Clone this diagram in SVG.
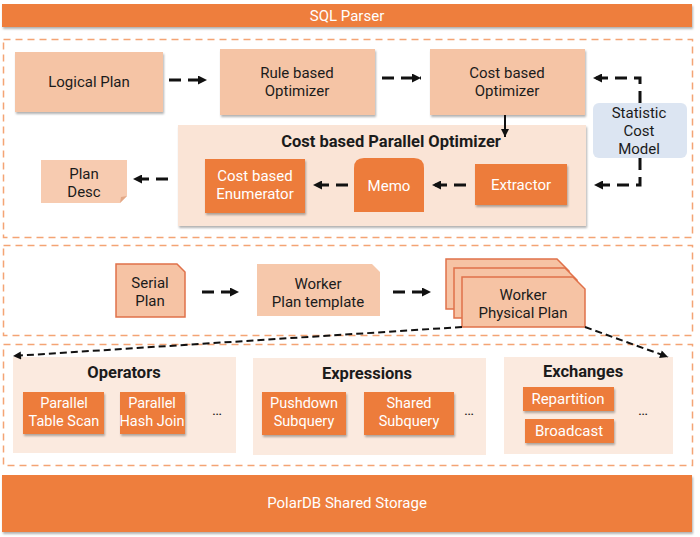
<svg xmlns="http://www.w3.org/2000/svg" width="700" height="537" viewBox="0 0 700 537">
<defs>
<filter id="sh" x="-10%" y="-10%" width="120%" height="130%"><feDropShadow dx="1" dy="2" stdDeviation="1.2" flood-color="#000" flood-opacity="0.3"/></filter>
<marker id="ah" viewBox="0 0 10 10" refX="10" refY="5" markerWidth="10" markerHeight="9" markerUnits="userSpaceOnUse" orient="auto"><path d="M0,0 L10,5 L0,10 z" fill="#111"/></marker>
<marker id="ahs" viewBox="0 0 10 10" refX="10" refY="5" markerWidth="9" markerHeight="8" markerUnits="userSpaceOnUse" orient="auto"><path d="M0,0 L10,5 L0,10 z" fill="#111"/></marker>
<style>
text{font-family:Roboto,"Liberation Sans",sans-serif;font-size:15px;text-anchor:middle;dominant-baseline:central;fill:#1b1b1b}
.w{fill:#fff}
.s{font-size:14.5px}
.b{font-weight:bold;font-size:16.5px}
.bar{fill:#EE7E3E}
.lt{fill:#F5C4A5}
.dk{fill:#ED7C3B}
.ct{fill:#FAE4D6}
.pn{fill:#FBEADF}
.zone{fill:none;stroke:#F4A474;stroke-width:1.5;stroke-dasharray:7 5}
.st{stroke:#E0714A;stroke-width:1.5}
.tk{fill:none;stroke:#111;stroke-width:3;stroke-dasharray:12 7}
.tn{fill:none;stroke:#111;stroke-width:2;stroke-dasharray:7 4}
</style>
</defs>

<g id="sql-parser"><rect class="bar" x="2" y="4" width="690" height="23" filter="url(#sh)"/><text class="w" x="347" y="16">SQL Parser</text></g>

<g id="zones">
<rect class="zone" x="3.5" y="39.5" width="689" height="198"/>
<rect class="zone" x="3.5" y="245.5" width="689" height="90"/>
<rect class="zone" x="3.5" y="344.5" width="689" height="121"/>
</g>

<g id="logical-plan"><rect class="lt" x="15" y="52" width="148" height="60" filter="url(#sh)"/><text x="89" y="82">Logical Plan</text></g>
<g id="rule-optimizer"><rect class="lt" x="220" y="49" width="155" height="66" filter="url(#sh)"/><text x="297" y="73">Rule based</text><text x="297" y="91">Optimizer</text></g>
<g id="cost-optimizer"><rect class="lt" x="430" y="49" width="155" height="66" filter="url(#sh)"/><text x="507" y="73">Cost based</text><text x="507" y="91">Optimizer</text></g>
<g id="statistic-cost-model"><rect x="593" y="103" width="94" height="55" rx="6" fill="#DCE5F2"/><text x="639" y="113">Statistic</text><text x="639" y="131">Cost</text><text x="639" y="149">Model</text></g>

<g id="parallel-optimizer"><rect class="ct" x="178" y="125" width="408" height="101" filter="url(#sh)"/><text class="b" x="391" y="141">Cost based Parallel Optimizer</text></g>
<g id="plan-desc"><path d="M41,160 H127 V196 L120,203 H41 Z" fill="#F7CBB0"/><path d="M127,196 L121,197 L120,203 Z" fill="#E3A886"/><text x="84" y="174">Plan</text><text x="84" y="192">Desc</text></g>
<g id="enumerator"><rect class="dk" x="205" y="159" width="100" height="54" filter="url(#sh)"/><text class="w" x="255" y="176">Cost based</text><text class="w" x="255" y="194">Enumerator</text></g>
<g id="memo"><path class="dk" d="M354,212 V168 Q354,158 364,158 H414 Q424,158 424,168 V212 Z"/><text class="w" x="389" y="186">Memo</text></g>
<g id="extractor"><rect class="dk" x="475" y="164" width="92" height="41" filter="url(#sh)"/><text class="w" x="521" y="185">Extractor</text></g>

<g id="serial-plan"><path class="st" d="M116,264 H177 L185,272 V317 H116 Z" fill="#F6C3A4"/><text x="150" y="283">Serial</text><text x="150" y="301">Plan</text></g>
<g id="worker-plan-template"><path d="M257,264 H372 L380,272 V316 H257 Z" fill="#F6C8AB"/><text x="318" y="284">Worker</text><text x="318" y="302">Plan template</text></g>
<g id="worker-physical-plan">
<path class="st" d="M446,259 H557 L569,271 V309 H446 Z" fill="#F6C3A4"/>
<path class="st" d="M454,268 H565 L577,280 V318 H454 Z" fill="#F6C3A4"/>
<path class="st" d="M462,277 H573 L585,289 V327 H462 Z" fill="#F6C3A4"/>
<text x="523" y="295">Worker</text><text x="523" y="313">Physical Plan</text></g>

<g id="operators"><rect class="pn" x="13" y="357" width="223" height="96"/><text class="b" x="124" y="372">Operators</text>
<rect class="dk" x="23" y="392" width="81" height="42" filter="url(#sh)"/><text class="w s" x="64" y="403">Parallel</text><text class="w s" x="64" y="421">Table Scan</text>
<rect class="dk" x="120" y="392" width="65" height="42" filter="url(#sh)"/><text class="w s" x="152" y="403">Parallel</text><text class="w s" x="152" y="421">Hash Join</text>
<text x="217" y="410">…</text></g>
<g id="expressions"><rect class="pn" x="253" y="358" width="233" height="97"/><text class="b" x="367" y="373">Expressions</text>
<rect class="dk" x="262" y="392" width="84" height="43" filter="url(#sh)"/><text class="w s" x="304" y="403">Pushdown</text><text class="w s" x="304" y="421">Subquery</text>
<rect class="dk" x="364" y="392" width="90" height="43" filter="url(#sh)"/><text class="w s" x="409" y="403">Shared</text><text class="w s" x="409" y="421">Subquery</text>
<text x="469" y="410">…</text></g>
<g id="exchanges"><rect class="pn" x="504" y="357" width="169" height="97"/><text class="b" x="583" y="371">Exchanges</text>
<rect class="dk" x="523" y="387" width="91" height="24" filter="url(#sh)"/><text class="w" x="568" y="399">Repartition</text>
<rect class="dk" x="525" y="419" width="89" height="24" filter="url(#sh)"/><text class="w" x="569" y="431">Broadcast</text>
<text x="643" y="410">…</text></g>

<g id="shared-storage"><rect class="bar" x="2" y="475" width="690" height="57" filter="url(#sh)"/><text class="w" x="347" y="503">PolarDB Shared Storage</text></g>

<g id="connectors">
<path class="tk" d="M169,80 H207" marker-end="url(#ah)"/>
<path class="tk" d="M382,78 H421" marker-end="url(#ah)"/>
<path class="tk" d="M640,103 V78 H593" marker-end="url(#ah)"/>
<path class="tk" d="M640,158 V185 H594" marker-end="url(#ah)"/>
<path d="M505,115 V137" fill="none" stroke="#111" stroke-width="2" marker-end="url(#ahs)"/>
<path class="tk" d="M466,185 H432" marker-end="url(#ah)"/>
<path class="tk" d="M348,185 H313" marker-end="url(#ah)"/>
<path class="tk" d="M168,179 H133" marker-end="url(#ah)"/>
<path class="tk" d="M202,292 H239" marker-end="url(#ah)"/>
<path class="tk" d="M393,292 H431" marker-end="url(#ah)"/>
<path class="tn" d="M462,327 L13,356" marker-end="url(#ahs)"/>
<path class="tn" d="M585,327 L668,357" marker-end="url(#ahs)"/>
</g>
</svg>
